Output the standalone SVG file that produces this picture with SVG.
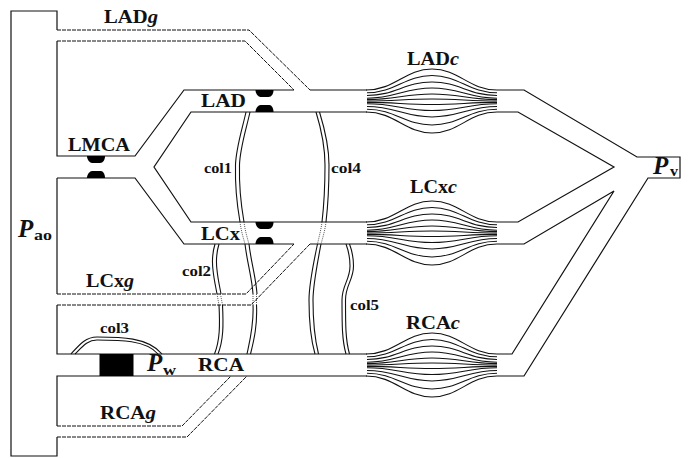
<svg xmlns="http://www.w3.org/2000/svg" width="697" height="458" viewBox="0 0 697 458">
<defs>
<style>
.w{fill:none;stroke:#111;stroke-width:1.2;stroke-linejoin:miter}
.d{fill:none;stroke:#111;stroke-width:1;stroke-dasharray:4 1}
.c{fill:none;stroke:#111;stroke-width:1.1}
.o{fill:none;stroke:#444;stroke-width:.9;stroke-dasharray:1 1}
.t{font-family:"Liberation Serif",serif;font-weight:bold;font-size:19.5px;fill:#111}
.s{font-family:"Liberation Serif",serif;font-weight:bold;font-size:15px;fill:#111}
.p{font-family:"Liberation Serif",serif;font-weight:bold;font-style:italic;font-size:25px;fill:#111}
.b{fill:#000}
.cap{fill:none;stroke:#111;stroke-width:1.1}
</style>
<path id="pu" d="M0,7C0,3 3,0 5,0H14C16,0 18,3 18,7Z"/>
<path id="pd" d="M0,0C0,4 3,7 5,7H13C16,7 18,4 18,0Z"/>
<g id="bundle">
<path class="cap" d="M366,-11C395,-11 405,-32 432,-32C459,-32 469,-11 497,-11"/>
<path class="cap" d="M367,-8.25C395,-8.25 405,-25.5 432,-25.5C459,-25.5 469,-8.25 497,-8.25"/>
<path class="cap" d="M367,-5.5C395,-5.5 405,-19 432,-19C459,-19 469,-5.5 497,-5.5"/>
<path class="cap" d="M367,-2.75C395,-2.75 405,-13 432,-13C459,-13 469,-2.75 497,-2.75"/>
<path class="cap" d="M367,-1.4C395,-1.4 405,-7 432,-7C459,-7 469,-1.4 497,-1.4"/>
<path class="cap" d="M367,0C395,0 405,-2 432,-2C459,-2 469,0 497,0"/>
<path class="cap" d="M367,1.4C395,1.4 405,3.5 432,3.5C459,3.5 469,1.4 497,1.4"/>
<path class="cap" d="M367,2.75C395,2.75 405,9.5 432,9.5C459,9.5 469,2.75 497,2.75"/>
<path class="cap" d="M367,5.5C395,5.5 405,16 432,16C459,16 469,5.5 497,5.5"/>
<path class="cap" d="M367,8.25C395,8.25 405,24 432,24C459,24 469,8.25 497,8.25"/>
<path class="cap" d="M366,11C395,11 405,32 432,32C459,32 469,11 497,11"/>
</g>
<g id="col1a"><path d="M246,112C242,130 236,148 235.5,165C235,185 237,205 240,222"/><path d="M250,112C246,130 240,148 239.5,165C239,185 241,205 244,222"/></g>
<g id="col4a"><path d="M316,112C320,125 325,145 325,165C325,185 324,205 322,222"/><path d="M319.5,112C323.5,125 329,145 329,165C329,185 328,205 326,222"/></g>
</defs>
<g id="connectors">
<path class="w" d="M57,30V11H11V456H57V437"/>
<path class="d" d="M57,30H249L310,90"/>
<path class="w" d="M310,90H367"/>
<path class="d" d="M57,41H245L294,90"/>
<path class="w" d="M294,90H184L135,156H57V41"/>
<path class="w" d="M57,178H135L184,244H294"/>
<path class="w" d="M57,178V294"/>
<path class="d" d="M57,294H246L294,244"/>
<path class="d" d="M57,305H251L310,244"/>
<path class="w" d="M310,244H367"/>
<path class="w" d="M57,305V354H367"/>
<path class="w" d="M57,426V376H367"/>
<path class="d" d="M57,426H182L231,376"/>
<path class="d" d="M57,437H187L247,376"/>
<path class="w" d="M367,112H191L154,167L191,222H367"/>
<path class="w" d="M497,90H524L637,157H680V178H648L524,376H497"/>
<path class="w" d="M497,112H518L614,167L518,222H497"/>
<path class="w" d="M497,244H524L614,191L512,354H497"/>
<g id="col1">
<use href="#col1a" class="c"/>
<path class="o" d="M240,222C241,230 243,237 245,244M244,222C245,230 247,237 249,244"/>
<path class="c" d="M245,244C247,262 252,278 253,294M249,244C251,262 256,278 257,294"/>
<path class="o" d="M253,294V305M256.5,294V305"/>
<path class="c" d="M253,305C254,325 250,340 247,354M256.5,305C257.5,325 254,340 250.5,354"/>
</g>
<g id="col4">
<use href="#col4a" class="c"/>
<path class="o" d="M322,222C321,230 319,237 317.5,244M326,222C325,230 323,237 321,244"/>
<path class="c" d="M317.5,244C313,265 309,285 309,300C309,325 311,340 315,354M321,244C317,265 313,285 313,300C313,325 315,340 318.5,354"/>
</g>
<g id="col5" class="c">
<path d="M346,244C349,252 350,258 350,266C350,280 342,285 342,300C342,325 342,340 346,354"/>
<path d="M349.5,244C352.5,252 353.5,258 353.5,266C353.5,280 345.5,285 345.5,300C345.5,325 345.5,340 349.5,354"/>
</g>
<g id="col2">
<path class="c" d="M215,244C212,254 212,262 213,270C214,280 216,288 217,294M219,244C216,254 216,262 217,270C218,280 220,288 221,294"/>
<path class="o" d="M217,294L219,305M220.5,294L222.5,305"/>
<path class="c" d="M219,305C220,325 220,340 214.5,354M222.5,305C223.5,325 223.5,340 218,354"/>
</g>
<g id="col3" class="c">
<path d="M71,354C80,344 86,337 97,337C120,337 148,337 162,354"/>
<path d="M75,354C83,346 88,340 97,340C120,340 146,340 158,354"/>
</g>
</g>
<g id="LADc"><use href="#bundle" y="101"/><text class="t" x="407" y="65" textLength="52" lengthAdjust="spacingAndGlyphs">LAD<tspan font-style="italic">c</tspan></text></g>
<g id="LCxc"><use href="#bundle" y="233"/><text class="t" x="410" y="193" textLength="47" lengthAdjust="spacingAndGlyphs">LCx<tspan font-style="italic">c</tspan></text></g>
<g id="RCAc"><use href="#bundle" y="365"/><text class="t" x="406" y="329" textLength="54" lengthAdjust="spacingAndGlyphs">RCA<tspan font-style="italic">c</tspan></text></g>
<g id="LADg"><text class="t" x="104" y="23" textLength="54" lengthAdjust="spacingAndGlyphs">LAD<tspan font-style="italic">g</tspan></text></g>
<g id="LCxg"><text class="t" x="86" y="287" textLength="48" lengthAdjust="spacingAndGlyphs">LCx<tspan font-style="italic">g</tspan></text></g>
<g id="RCAg"><text class="t" x="100" y="419" textLength="56" lengthAdjust="spacingAndGlyphs">RCA<tspan font-style="italic">g</tspan></text></g>
<g id="LMCA"><use href="#pd" class="b" x="87" y="156"/><use href="#pu" class="b" x="87" y="171"/><text class="t" x="68" y="151" textLength="62" lengthAdjust="spacingAndGlyphs">LMCA</text></g>
<g id="LAD"><use href="#pd" class="b" x="255.5" y="90"/><use href="#pu" class="b" x="255.5" y="105"/><text class="t" x="201" y="107" textLength="45" lengthAdjust="spacingAndGlyphs">LAD</text></g>
<g id="LCx"><use href="#pd" class="b" x="255.5" y="222"/><use href="#pu" class="b" x="255.5" y="237"/><text class="t" x="201" y="240" textLength="39" lengthAdjust="spacingAndGlyphs">LCx</text></g>
<g id="RCA"><text class="t" x="198" y="371" textLength="46" lengthAdjust="spacingAndGlyphs">RCA</text></g>
<g id="Pw"><rect class="b" x="99.5" y="354" width="34" height="22"/><text class="p" x="147" y="371">P</text><text class="s" x="163" y="375" textLength="13" lengthAdjust="spacingAndGlyphs">w</text></g>
<g id="Pao"><text class="p" x="18" y="237">P</text><text class="s" x="34" y="240" textLength="18" lengthAdjust="spacingAndGlyphs">ao</text></g>
<g id="Pv"><text class="p" x="653" y="174">P</text><text class="s" x="670" y="176" textLength="8" lengthAdjust="spacingAndGlyphs">v</text></g>
<g id="labels">
<text class="s" x="204" y="173" textLength="28" lengthAdjust="spacingAndGlyphs">col1</text>
<text class="s" x="331" y="173" textLength="30" lengthAdjust="spacingAndGlyphs">col4</text>
<text class="s" x="182" y="276" textLength="29" lengthAdjust="spacingAndGlyphs">col2</text>
<text class="s" x="100" y="333" textLength="29" lengthAdjust="spacingAndGlyphs">col3</text>
<text class="s" x="350" y="310" textLength="29" lengthAdjust="spacingAndGlyphs">col5</text>
</g>
</svg>
